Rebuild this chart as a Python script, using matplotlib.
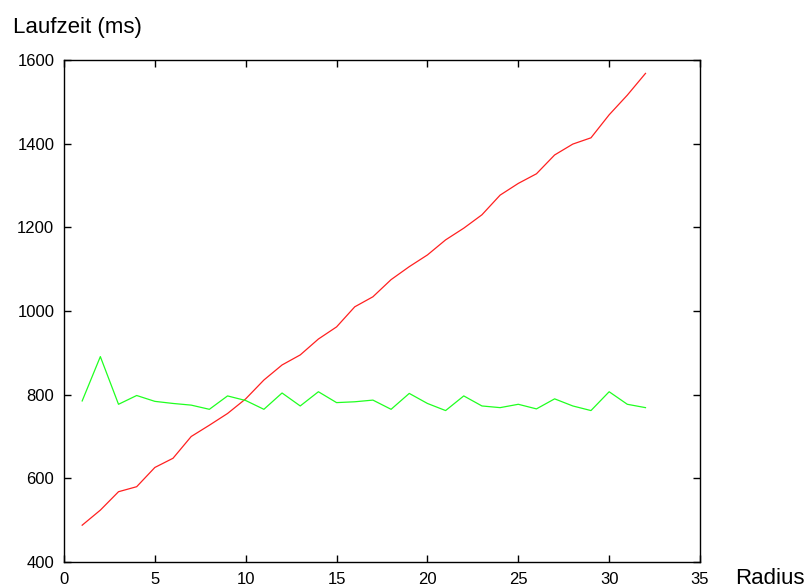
import matplotlib
matplotlib.use('Agg')
import matplotlib.pyplot as plt

# ------------------------------------
# Data
# ------------------------------------
radius = list(range(1, 33))

laufzeit_red = [488, 524, 568, 580, 626, 648, 700, 727, 755, 790,
                835, 871, 895, 933, 962, 1010, 1034, 1075, 1106, 1134,
                1170, 1198, 1230, 1277, 1305, 1328, 1373, 1399, 1414, 1469,
                1516, 1568]

laufzeit_green = [785, 891, 777, 798, 784, 779, 775, 765, 797, 786,
                  765, 804, 773, 807, 781, 783, 787, 765, 803, 779,
                  762, 797, 773, 769, 777, 766, 790, 773, 762, 807,
                  777, 769]

xticks = [0, 5, 10, 15, 20, 25, 30, 35]
yticks = [400, 600, 800, 1000, 1200, 1400, 1600]

# ------------------------------------
# Figure setup
# ------------------------------------
plt.rcParams['font.family'] = ['Liberation Sans', 'DejaVu Sans']

fig = plt.figure(figsize=(8.08, 5.88), dpi=100)
ax = fig.add_axes([64 / 808, 26 / 588, 636 / 808, 502 / 588])

ax.plot(radius, laufzeit_red, color='#ff2020', linewidth=0.9)
ax.plot(radius, laufzeit_green, color='#20ff20', linewidth=0.9)

ax.set_xlim(0, 35)
ax.set_ylim(400, 1600)
ax.set_xticks(xticks)
ax.set_yticks(yticks)

ax.tick_params(direction='in', length=5, width=1, labelsize=12,
               top=True, right=True, pad=7)
for spine in ax.spines.values():
    spine.set_linewidth(1.0)

# axis labels placed like the original (outside the box)
fig.text(13 / 808, 1 - 33 / 588, 'Laufzeit (ms)', fontsize=16, va='baseline')
fig.text(735 / 808, 1 - 584 / 588, 'Radius', fontsize=16, va='baseline')

fig.savefig('out.png', dpi=100)
